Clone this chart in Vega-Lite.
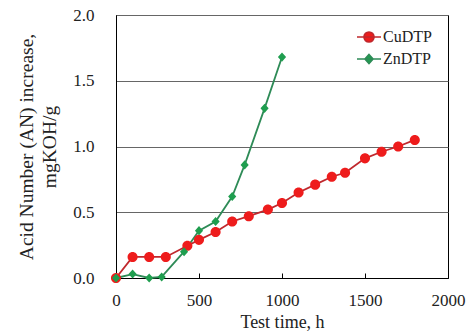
{
  "$schema": "https://vega.github.io/schema/vega-lite/v6.json",
  "autosize": {"type": "none"},
  "padding": {"left": 116, "top": 15, "right": 21, "bottom": 55},
  "width": 332,
  "height": 263,
  "background": "white",
  "view": {"stroke": "black", "strokeWidth": 1},
  "config": {
    "font": "Liberation Serif",
    "view": {"stroke": "black", "strokeWidth": 1}
  },
  "data": {"values": [
    {"t": 0, "an": 0, "s": "CuDTP"},
    {"t": 100, "an": 0.16, "s": "CuDTP"},
    {"t": 200, "an": 0.16, "s": "CuDTP"},
    {"t": 300, "an": 0.16, "s": "CuDTP"},
    {"t": 430, "an": 0.245, "s": "CuDTP"},
    {"t": 500, "an": 0.29, "s": "CuDTP"},
    {"t": 600, "an": 0.35, "s": "CuDTP"},
    {"t": 700, "an": 0.43, "s": "CuDTP"},
    {"t": 800, "an": 0.47, "s": "CuDTP"},
    {"t": 915, "an": 0.52, "s": "CuDTP"},
    {"t": 1000, "an": 0.57, "s": "CuDTP"},
    {"t": 1100, "an": 0.65, "s": "CuDTP"},
    {"t": 1200, "an": 0.71, "s": "CuDTP"},
    {"t": 1300, "an": 0.77, "s": "CuDTP"},
    {"t": 1380, "an": 0.8, "s": "CuDTP"},
    {"t": 1500, "an": 0.91, "s": "CuDTP"},
    {"t": 1600, "an": 0.96, "s": "CuDTP"},
    {"t": 1700, "an": 1.0, "s": "CuDTP"},
    {"t": 1800, "an": 1.05, "s": "CuDTP"},
    {"t": 0, "an": 0, "s": "ZnDTP"},
    {"t": 100, "an": 0.03, "s": "ZnDTP"},
    {"t": 200, "an": 0.0, "s": "ZnDTP"},
    {"t": 275, "an": 0.008, "s": "ZnDTP"},
    {"t": 410, "an": 0.2, "s": "ZnDTP"},
    {"t": 500, "an": 0.36, "s": "ZnDTP"},
    {"t": 600, "an": 0.43, "s": "ZnDTP"},
    {"t": 700, "an": 0.62, "s": "ZnDTP"},
    {"t": 775, "an": 0.86, "s": "ZnDTP"},
    {"t": 895, "an": 1.29, "s": "ZnDTP"},
    {"t": 1000, "an": 1.68, "s": "ZnDTP"}
  ]},
  "encoding": {
    "x": {
      "field": "t", "type": "quantitative",
      "scale": {"domain": [0, 2000], "nice": false},
      "axis": {
        "values": [0, 500, 1000, 1500, 2000],
        "format": "d",
        "title": "Test time, h",
        "grid": false,
        "domainColor": "black",
        "tickColor": "black",
        "tickSize": -5,
        "labelFontSize": 17,
        "labelColor": "#222",
        "labelPadding": 19,
        "labelFlush": false,
        "titleFontSize": 18,
        "titleFontWeight": "normal",
        "titleColor": "#222",
        "titlePadding": 5
      }
    },
    "y": {
      "field": "an", "type": "quantitative",
      "scale": {"domain": [0, 2], "nice": false},
      "axis": {
        "values": [0, 0.5, 1, 1.5, 2],
        "format": ".1f",
        "title": ["Acid Number (AN) increase,", "mgKOH/g"],
        "grid": true,
        "gridColor": "#666",
        "gridWidth": 1,
        "domainColor": "black",
        "ticks": false,
        "labelFontSize": 17,
        "labelColor": "#222",
        "labelPadding": 22,
        "titleFontSize": 19.5,
        "titleLineHeight": 23,
        "titleFontWeight": "normal",
        "titleColor": "#222",
        "titlePadding": 13
      }
    }
  },
  "layer": [
    {
      "mark": {"type": "line", "strokeWidth": 1.8},
      "encoding": {
        "stroke": {
          "field": "s", "type": "nominal",
          "scale": {"domain": ["CuDTP", "ZnDTP"], "range": ["#c0282d", "#2e8b57"]}
        }
      }
    },
    {
      "mark": {"type": "point", "filled": true, "opacity": 1, "size": 576, "strokeWidth": 1.6},
      "encoding": {
        "color": {
          "field": "s", "type": "nominal",
          "scale": {"domain": ["CuDTP", "ZnDTP"], "range": ["#ee1c1c", "#1f9e4f"]},
          "legend": {
            "title": null,
            "orient": "none",
            "legendX": 240,
            "legendY": 9,
            "padding": 0,
            "symbolSize": 576,
            "symbolStrokeWidth": 1.6,
            "rowPadding": 0,
            "labelOffset": 1,
            "labelFontSize": 16,
            "labelColor": "#222"
          }
        },
        "shape": {
          "field": "s", "type": "nominal",
          "scale": {"domain": ["CuDTP", "ZnDTP"], "range": ["M-1,0L1,0M-0.42,0A0.42,0.42,0,1,1,0.42,0A0.42,0.42,0,1,1,-0.42,0Z", "M-1,0L1,0M0,-0.38L0.34,0L0,0.38L-0.34,0Z"]}
        }
      }
    }
  ]
}
